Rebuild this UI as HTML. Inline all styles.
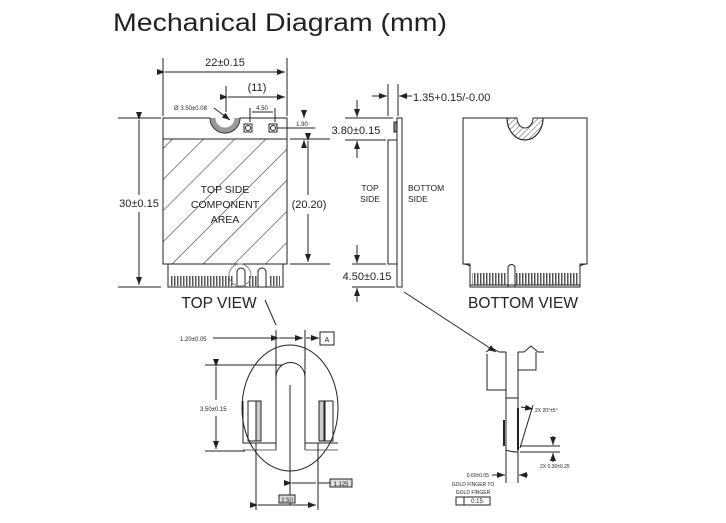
<!DOCTYPE html>
<html><head><meta charset="utf-8"><style>
html,body{margin:0;padding:0;background:#fff;width:726px;height:523px;overflow:hidden}
svg{display:block}
text{font-family:"Liberation Sans",sans-serif;fill:#222}
</style></head><body>
<svg width="726" height="523" viewBox="0 0 726 523" xmlns="http://www.w3.org/2000/svg">
<defs>
<marker id="a" markerWidth="8" markerHeight="6" refX="8" refY="3" orient="auto" markerUnits="userSpaceOnUse"><path d="M0,0 L8,3 L0,6 z" fill="#222"/></marker>
<pattern id="h" width="22" height="22" patternUnits="userSpaceOnUse" patternTransform="rotate(45)"><line x1="0" y1="0" x2="0" y2="22" stroke="#333" stroke-width="1.2"/></pattern>
<pattern id="h2" width="4" height="4" patternUnits="userSpaceOnUse" patternTransform="rotate(45)"><line x1="0" y1="0" x2="0" y2="4" stroke="#555" stroke-width="1"/></pattern>
<pattern id="pins" width="3" height="10" patternUnits="userSpaceOnUse"><rect x="0" y="0" width="1.5" height="10" fill="#555"/></pattern>
</defs>
<text x="113" y="31" font-size="25" textLength="334" lengthAdjust="spacingAndGlyphs" fill="#333">Mechanical Diagram (mm)</text>

<g stroke="#222" stroke-width="1" fill="none">
<!-- TOP VIEW board -->
<path d="M163,118 H210 A15,15 0 0 0 240,118 H287 V264 H283 V287 H168 V264 H163 Z" fill="#fff"/>
<rect x="163" y="139" width="124" height="125" fill="url(#h)"/>
<line x1="163" y1="139" x2="287" y2="139"/>
<path d="M213,118 A12,12 0 0 0 237,118" stroke-width="5" stroke="#999"/>
<rect x="244" y="124" width="8" height="8"/><circle cx="248" cy="128" r="2.5"/>
<rect x="269" y="124" width="8" height="8"/><circle cx="273" cy="128" r="2.5"/>
<rect x="171" y="276" width="62" height="10" fill="url(#pins)" stroke="none"/>
<rect x="249" y="276" width="8" height="10" fill="url(#pins)" stroke="none"/>
<rect x="270" y="276" width="10" height="10" fill="url(#pins)" stroke="none"/>
<path d="M237,287 V272 A4,4 0 0 1 245,272 V287"/>
<path d="M258,287 V272 A4,4 0 0 1 266,272 V287"/>
<circle cx="240" cy="275" r="11" stroke="#888"/>
<line x1="265" y1="300" x2="276" y2="325"/>
<!-- dims top view -->
<line x1="163" y1="58" x2="163" y2="116"/><line x1="287" y1="58" x2="287" y2="116"/>
<line x1="165" y1="72" x2="285" y2="72" marker-start="url(#a)" marker-end="url(#a)"/>
<line x1="226" y1="86" x2="226" y2="112"/>
<line x1="228" y1="97" x2="285" y2="97" marker-start="url(#a)" marker-end="url(#a)"/>
<line x1="214" y1="108" x2="230" y2="120" marker-end="url(#a)"/>
<line x1="250" y1="108" x2="250" y2="122"/><line x1="275" y1="108" x2="275" y2="122"/>
<line x1="252" y1="112" x2="273" y2="112"/>
<line x1="277" y1="128" x2="315" y2="128"/>
<line x1="304" y1="112" x2="304" y2="118" marker-end="url(#a)"/>
<line x1="304" y1="146" x2="304" y2="140" marker-end="url(#a)"/>
<line x1="118" y1="118" x2="161" y2="118"/><line x1="118" y1="287" x2="161" y2="287"/>
<line x1="139" y1="120" x2="139" y2="195" marker-start="url(#a)"/>
<line x1="139" y1="212" x2="139" y2="285" marker-end="url(#a)"/>
<line x1="290" y1="139" x2="330" y2="139"/><line x1="290" y1="264" x2="330" y2="264"/>
<line x1="308" y1="141" x2="308" y2="195" marker-start="url(#a)"/>
<line x1="308" y1="214" x2="308" y2="262" marker-end="url(#a)"/>

<!-- SIDE VIEW -->
<rect x="397" y="118" width="5" height="169" fill="#fff"/>
<rect x="388" y="140" width="9" height="124" fill="#fff"/>
<rect x="394" y="122" width="3" height="10" fill="#888"/>
<line x1="388" y1="84" x2="388" y2="116"/><line x1="398" y1="84" x2="398" y2="116"/>
<line x1="372" y1="96" x2="387" y2="96" marker-end="url(#a)"/>
<line x1="412" y1="96" x2="399" y2="96" marker-end="url(#a)"/>
<line x1="345" y1="118" x2="393" y2="118"/><line x1="345" y1="140" x2="386" y2="140"/>
<line x1="357" y1="100" x2="357" y2="117" marker-end="url(#a)"/>
<line x1="357" y1="158" x2="357" y2="141" marker-end="url(#a)"/>
<line x1="357" y1="245" x2="357" y2="263" marker-end="url(#a)"/>
<line x1="357" y1="302" x2="357" y2="288" marker-end="url(#a)"/>
<line x1="352" y1="264" x2="386" y2="264"/><line x1="352" y1="287" x2="395" y2="287"/>
<line x1="404" y1="292" x2="496" y2="352" marker-end="url(#a)"/>

<!-- BOTTOM VIEW -->
<path d="M463,118 H507 A18,22 0 0 0 543,118 H587 V264 H580 V287 H470 V264 H463 Z" fill="#fff"/>
<path d="M507,118 A18,22 0 0 0 543,118 H533 A8,10 0 0 1 517,118 Z" fill="url(#h2)"/>
<path d="M470,266 Q467,264 463,264 M580,266 Q583,264 587,264"/>
<rect x="472" y="273" width="35" height="12" fill="url(#pins)" stroke="none"/>
<rect x="516" y="273" width="62" height="12" fill="url(#pins)" stroke="none"/>
<path d="M508,287 V268 A3.5,3.5 0 0 1 515,268 V287"/>
<line x1="470" y1="285" x2="580" y2="285"/>

<!-- DETAIL 1 -->
<ellipse cx="290" cy="408" rx="48" ry="63"/>
<line x1="276" y1="330" x2="276" y2="450"/><line x1="305" y1="330" x2="305" y2="450"/>
<path d="M276,377 A14,14 0 0 1 305,377 V450"/>
<line x1="290" y1="385" x2="290" y2="505"/>
<rect x="248" y="401" width="8" height="40"/><rect x="256" y="401" width="5" height="40" fill="#ccc"/>
<rect x="319" y="401" width="5" height="40" fill="#ccc"/><rect x="325" y="401" width="8" height="40"/>
<path d="M243,401 V443 H276 M305,443 H338"/>
<path d="M243,450 H276 M305,450 H338" stroke="#666"/>
<line x1="256" y1="443" x2="256" y2="510"/><line x1="318" y1="443" x2="318" y2="510"/>
<line x1="258" y1="505" x2="316" y2="505" marker-start="url(#a)" marker-end="url(#a)"/>
<line x1="292" y1="483" x2="316" y2="483" marker-start="url(#a)"/>
<line x1="318" y1="483" x2="343" y2="483"/>
<line x1="213" y1="338" x2="276" y2="338"/>
<line x1="279" y1="338" x2="303" y2="338" marker-start="url(#a)" marker-end="url(#a)"/>
<line x1="306" y1="338" x2="319" y2="338" marker-end="url(#a)"/>
<rect x="320" y="332" width="14" height="13"/>
<line x1="205" y1="365" x2="282" y2="365"/><line x1="205" y1="451" x2="245" y2="451"/>
<line x1="216" y1="367" x2="216" y2="400" marker-start="url(#a)"/>
<line x1="216" y1="416" x2="216" y2="449" marker-end="url(#a)"/>
<rect x="279" y="495" width="16" height="8" fill="#ddd"/>
<rect x="330" y="479" width="22" height="8" fill="#ddd"/>

<!-- DETAIL 2 -->
<path d="M486,352 L492,348 L499,352 L506,352 M518,352 L524,352 L531,346 L538,352 L544,352"/>
<path d="M487,354 V390 H506 M518,370 H536 V352"/>
<line x1="506" y1="352" x2="506" y2="483"/><line x1="518" y1="352" x2="518" y2="483"/>
<line x1="506" y1="398" x2="518" y2="398"/>
<line x1="504" y1="420" x2="504" y2="446" stroke-width="2"/>
<line x1="518" y1="408" x2="518" y2="450" stroke-width="2"/>
<line x1="520" y1="448" x2="533" y2="405"/>
<line x1="521" y1="407" x2="533" y2="409" marker-end="url(#a)"/>
<path d="M506,450 Q511,452 518,452"/>
<line x1="520" y1="446" x2="560" y2="446"/><line x1="520" y1="452" x2="560" y2="452"/>
<line x1="553" y1="436" x2="553" y2="445" marker-end="url(#a)"/>
<line x1="553" y1="462" x2="553" y2="453" marker-end="url(#a)"/>
<line x1="492" y1="475" x2="505" y2="475" marker-end="url(#a)"/>
<line x1="528" y1="475" x2="519" y2="475" marker-end="url(#a)"/>
<rect x="456" y="497" width="34" height="8"/>
<line x1="464" y1="497" x2="464" y2="505"/>
</g>

<g font-size="11">
<text x="225" y="66" text-anchor="middle">22±0.15</text>
<text x="257" y="91" text-anchor="middle">(11)</text>
<text x="174" y="110" font-size="6">Ø 3.50±0.08</text>
<text x="262" y="110" font-size="6" text-anchor="middle">4.50</text>
<text x="302" y="126" font-size="6" text-anchor="middle">1.90</text>
<text x="139" y="207" text-anchor="middle">30±0.15</text>
<text x="309" y="208" text-anchor="middle">(20.20)</text>
<text x="225" y="193" text-anchor="middle" font-size="10.5">TOP SIDE</text>
<text x="225" y="208" text-anchor="middle" font-size="10.5">COMPONENT</text>
<text x="225" y="223" text-anchor="middle" font-size="10.5">AREA</text>
<text x="219" y="308" text-anchor="middle" font-size="15.5">TOP VIEW</text>
<text x="413" y="101">1.35+0.15/-0.00</text>
<text x="356" y="134" text-anchor="middle">3.80±0.15</text>
<text x="370" y="191" text-anchor="middle" font-size="8.5">TOP</text>
<text x="370" y="202" text-anchor="middle" font-size="8.5">SIDE</text>
<text x="408" y="191" font-size="8.5">BOTTOM</text>
<text x="408" y="202" font-size="8.5">SIDE</text>
<text x="367" y="280" text-anchor="middle">4.50±0.15</text>
<text x="523" y="308" text-anchor="middle" font-size="15.5">BOTTOM VIEW</text>
<text x="180" y="341" font-size="6">1.20±0.05</text>
<text x="327" y="342" font-size="7" text-anchor="middle">A</text>
<text x="200" y="411" font-size="6">3.50±0.15</text>
<text x="287" y="502" font-size="6" text-anchor="middle">2.50</text>
<text x="341" y="486" font-size="6" text-anchor="middle">1.125</text>
<text x="535" y="412" font-size="5">2X 20°±5°</text>
<text x="540" y="468" font-size="5">2X 0.30±0.25</text>
<text x="489" y="477" font-size="5" text-anchor="end">0.60±0.05</text>
<text x="473" y="486" font-size="5" text-anchor="middle">GOLD FINGER TO</text>
<text x="473" y="494" font-size="5" text-anchor="middle">GOLD FINGER</text>
<text x="477" y="503" font-size="6" text-anchor="middle">0.15</text>
</g>
</svg>
</body></html>
